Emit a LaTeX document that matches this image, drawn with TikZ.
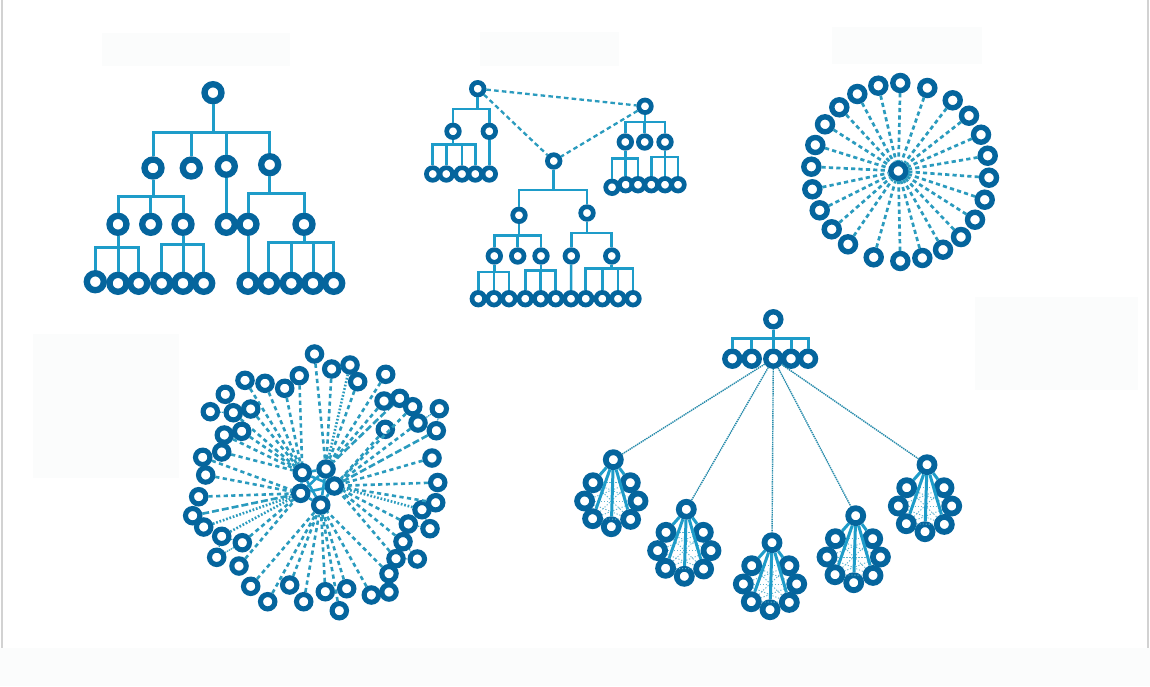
\documentclass[tikz,border=0pt]{standalone}
\usetikzlibrary{backgrounds}
\definecolor{ringblue}{HTML}{05659D}
\definecolor{connblue}{HTML}{1E9CC9}
\definecolor{dashblue}{HTML}{2A9BBE}
\definecolor{mistfill}{HTML}{FBFCFC}
\definecolor{edgegray}{HTML}{D2D2D2}
\tikzset{
  x=1pt,y=-1pt,
  ringbig/.style={circle,draw=ringblue,fill=white,inner sep=0pt,line width=6.3pt,minimum size=17pt},
  ringsmall/.style={circle,draw=ringblue,fill=white,inner sep=0pt,line width=4.7pt,minimum size=12.6pt},
  ringstar/.style={circle,draw=ringblue,fill=white,inner sep=0pt,line width=5.4pt,minimum size=15pt},
  ringwide/.style={circle,draw=ringblue,fill=white,inner sep=0pt,line width=5.1pt,minimum size=14.4pt},
  ringclus/.style={circle,draw=ringblue,fill=white,inner sep=0pt,line width=5.8pt,minimum size=15pt},
  busthick/.style={draw=connblue,line width=3pt},
  busthin/.style={draw=connblue,line width=2.5pt},
  dashA/.style={draw=dashblue,line width=2.3pt,dash pattern=on 4.6pt off 3.2pt},
  dashB/.style={draw=dashblue,line width=2.7pt,dash pattern=on 4.2pt off 3.2pt},
  dashC/.style={draw=dashblue,line width=2.6pt,dash pattern=on 4.2pt off 3.4pt},
  dashD/.style={draw=dashblue,line width=2.6pt,dash pattern=on 1.7pt off 1.8pt},
  dashE/.style={draw=dashblue,line width=2.6pt,dash pattern=on 7pt off 3pt},
  linkthin/.style={draw=dashblue,line width=1.2pt,dash pattern=on 1.4pt off .8pt},
  meshline/.style={draw=connblue,line width=2.6pt},
  spineline/.style={draw=connblue,line width=3pt},
  thinmesh/.style={draw=dashblue!75,line width=.9pt,dash pattern=on 1.2pt off 1.8pt},
  longthin/.style={draw=dashblue!90!black,line width=1.4pt,dash pattern=on 1.4pt off .8pt},
  mistbox/.style={fill=mistfill,draw=none},
}
\newcommand{\busto}[4][busthick]{\foreach \c in {#4} \draw[#1] (#2) -- (#2 |- 0,#3) -| (\c);}
\newcommand{\clusterat}[3]{%
  \begin{scope}[shift={(#2,#3)}]
    \node[ringclus] (#1t) at (0,0) {};
    \node[ringclus] (#1a) at (-20.3,23) {};
    \node[ringclus] (#1b) at (17,23) {};
    \node[ringclus] (#1c) at (-28.7,41.3) {};
    \node[ringclus] (#1d) at (24.7,41.3) {};
    \node[ringclus] (#1e) at (-20.7,59) {};
    \node[ringclus] (#1f) at (17.3,59.7) {};
    \node[ringclus] (#1g) at (-2,67) {};
  \end{scope}
  \foreach \u/\v in {a/b,a/d,a/f,b/c,b/e,c/d,c/f,d/e,e/f,e/g,f/g}
    \draw[thinmesh] (#1\u) -- (#1\v);
  \foreach \u in {a,b,e,f,g} \draw[spineline] (#1t) -- (#1\u);
}
\begin{document}
\begin{tikzpicture}
\useasboundingbox (0,0) rectangle (1150,686);
\fill[white] (0,0) rectangle (1150,686);
% pale patches and page edges
\fill[mistbox] (102,33) rectangle (290,66);
\fill[mistbox] (480,32) rectangle (619,66);
\fill[mistbox] (832,27) rectangle (982,64);
\fill[mistbox] (33,334) rectangle (179,478);
\fill[mistbox] (975,297) rectangle (1138,390);
\fill[mistbox] (0,648) rectangle (1150,686);
\fill[edgegray] (1,0) rectangle (2.6,648);
\fill[edgegray] (1146.6,0) rectangle (1149,648);

% ---------- tree 1 ----------
\foreach \n/\x/\y in {r/213/92.7,
  a/153/168,b/191.3/168,c/226.3/166.3,d/269.7/164.7,
  e/118/224.3,f/150.7/224.3,g/183/224.3,h/226.3/224.3,i/248/224.3,j/304/224.3,
  k/95.3/281.7,l/118/283.3,m/138.7/283.3,n/161.7/283.3,o/183/283.3,p/203.7/283.3,
  q/248/283.3,s/268.7/283.3,t/291.3/283.3,u/313/283.3,v/333.7/283.3}
  \node[ringbig] (A\n) at (\x,\y) {};
\busto{Ar}{132}{Aa,Ab,Ac,Ad}
\busto{Aa}{196.7}{Ae,Af,Ag}
\busto{Ad}{193}{Ai,Aj}
\draw[busthick] (Ac) -- (Ah);
\draw[busthick] (Ai) -- (Aq);
\busto{Ae}{247}{Ak,Al,Am}
\busto{Ag}{244.7}{An,Ao,Ap}
\busto{Aj}{242}{As,At,Au,Av}

% ---------- tree 2 ----------
\foreach \n/\x/\y in {A/477.7/88.7,B/645/106.3,C/553.7/161,
  a1/453/131.3,a2/489.3/131.3,
  al1/432.7/174,al2/446.3/174,al3/462/174,al4/475.3/174,al5/489.3/174,
  b1/625.3/142,b2/644.7/142,b3/665/142,
  bl1/612/187.3,bl2/625.7/184.7,bl3/638/184.7,bl4/651.3/184.7,bl5/665/184.7,bl6/678/184.7,
  c1/519/215.3,c2/587/213,
  d1/494.3/256,d2/517.7/256,d3/541/256,d4/571.3/256,d5/611.7/256,
  x1/478.3/298.7,x2/494/298.7,x3/509/298.7,x4/525.3/298.7,x5/540.7/298.7,x6/555.7/298.7,
  x7/571/298.7,x8/585.7/298.7,x9/602.3/298.7,x10/618/298.7,x11/633/298.7}
  \node[ringsmall] (B\n) at (\x,\y) {};
\draw[dashA] (BA) -- (BB);
\draw[dashA] (BA) -- (BC);
\draw[dashA] (BB) -- (BC);
\busto[busthin]{BA}{109}{Ba1,Ba2}
\busto[busthin]{Ba1}{144.3}{Bal1,Bal2,Bal3,Bal4}
\draw[busthin] (Ba2) -- (Bal5);
\busto[busthin]{BB}{122}{Bb1,Bb2,Bb3}
\busto[busthin]{Bb1}{158.3}{Bbl1,Bbl2,Bbl3}
\busto[busthin]{Bb3}{157}{Bbl4,Bbl5,Bbl6}
\busto[busthin]{BC}{190}{Bc1,Bc2}
\busto[busthin]{Bc1}{235.7}{Bd1,Bd2,Bd3}
\busto[busthin]{Bc2}{233}{Bd4,Bd5}
\busto[busthin]{Bd1}{272}{Bx1,Bx2,Bx3}
\busto[busthin]{Bd3}{270.7}{Bx4,Bx5,Bx6}
\draw[busthin] (Bd4) -- (Bx7);
\busto[busthin]{Bd5}{268.7}{Bx8,Bx9,Bx10,Bx11}

% ---------- star 3 ----------
\fill[connblue] (901,172) circle (8);
\node[ringstar] (Shub) at (898.3,171) {};
\foreach \x/\y [count=\i] in {900.3/83,927.3/88,952.7/100.3,969/115.7,981/134.7,987.7/155.7,989/177.7,984.7/199.7,975/219.7,961/237,943/249.7,922.3/258,900.3/261,873.7/257.3,848/244.3,831.7/229.3,819.7/210.3,812.3/189.3,811.3/166.7,815.3/145,825/124.3,839.3/107.3,857.3/94,878.3/85.7}
  \node[ringstar] (S\i) at (\x,\y) {};
\foreach \i in {1,...,24} \draw[dashB] (S\i) -- (Shub);

% ---------- star 4 ----------
\foreach \n/\x/\y in {1/326/469,2/302.3/472.7,3/334.3/486,4/300.7/493.3,5/320.7/505}
  \node[ringwide] (H\n) at (\x,\y) {};
\foreach \u/\v in {1/2,1/3,1/4,1/5,2/3,2/4,2/5,3/4,3/5,4/5}
  \draw[meshline] (H\u) -- (H\v);
\foreach \x/\y/\h/\st [count=\i] in {
  245/380.3/2/dashC,265/383.3/2/dashC,284.7/388.3/2/dashC,299.3/375.7/2/dashC,
  250.7/409/2/dashC,233.3/412.7/2/dashC,241.7/431.3/2/dashC,224.3/435/2/dashC,
  221.7/452/2/dashC,202.7/457.3/4/dashC,205.7/475/4/dashC,198.7/496.7/4/dashC,
  192.7/515.7/4/dashE,203.7/527/4/dashD,221.7/536.3/4/dashD,242.3/542.7/4/dashC,
  239/566/4/dashC,250.7/586.3/5/dashC,267.7/601.7/5/dashC,289.7/585/5/dashC,303.7/601.7/5/dashC,
  325.3/591.7/5/dashC,346.7/588.7/5/dashC,339.3/610.7/5/dashC,371.3/595/5/dashC,389/573.7/5/dashC,
  396/558.7/3/dashC,403/541.7/3/dashC,408.3/524/3/dashC,422/509.7/3/dashD,435.7/502.7/3/dashC,
  437.7/482.5/3/dashC,432/458/3/dashC,436.3/430.7/3/dashE,418/423/3/dashC,385.3/429.3/3/dashC,
  412.7/406.7/3/dashC,399.7/398.3/1/dashE,384/401/1/dashC,385.7/374.3/1/dashC,357.7/381.7/1/dashC,
  350/365/1/dashD,331.7/369/1/dashC,314.5/354/1/dashC}
{
  \node[ringwide] (P\i) at (\x,\y) {};
  \draw[\st] (P\i) -- (H\h);
}
\foreach \n/\x/\y in {a/225.3/394.3,b/210.3/411.7,c/216.7/557.3,d/430/528.7,e/417.3/559,f/439.3/408.7,g/389/592}
  \node[ringwide] (Q\n) at (\x,\y) {};
\foreach \u/\v in {Qa/P6,Qb/P6,P15/P16,P16/Qc,P15/Qc,P30/P29,P29/Qd,P30/Qd,P28/Qe,P27/Qe,Qf/P35,P35/P34,Qf/P34,P42/P43}
  \draw[linkthin] (\u) -- (\v);

% ---------- cluster tree ----------
\foreach \n/\x/\y in {r/773.3/319.3,a/732.3/358.7,b/751.7/358.7,c/773.3/358.7,d/791/358.7,e/808/358.7}
  \node[ringstar] (T\n) at (\x,\y) {};
\busto{Tr}{338}{Ta,Tb,Tc,Td,Te}
\clusterat{CA}{613.3}{459.7}
\clusterat{CB}{686.3}{509.3}
\clusterat{CC}{772}{542.7}
\clusterat{CD}{855.7}{515.7}
\clusterat{CE}{927}{464.7}
\foreach \c in {CAt,CBt,CCt,CDt,CEt} \draw[longthin] (Tc) -- (\c);
\end{tikzpicture}
\end{document}
